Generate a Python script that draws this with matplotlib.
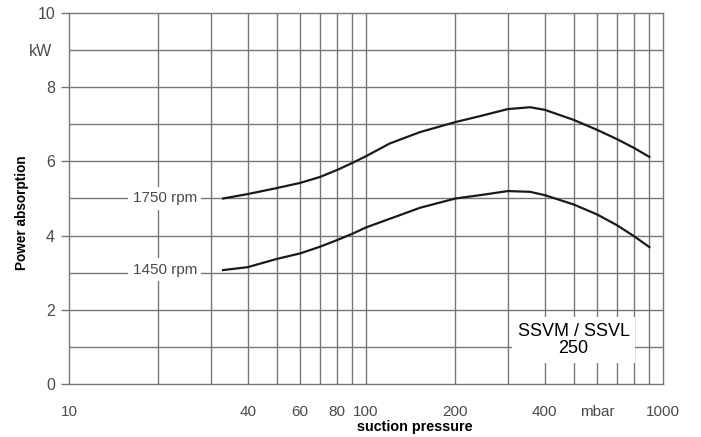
import numpy as np
import matplotlib
matplotlib.use("Agg")
import matplotlib.pyplot as plt

# suction pressure (mbar), log axis
pressure = [33, 40, 50, 60, 70, 80, 90, 100, 120, 152, 200, 242, 300, 357, 400, 500, 600, 700, 800, 900]
# power absorption (kW)
p_1750 = [5.00, 5.12, 5.28, 5.42, 5.58, 5.77, 5.96, 6.14, 6.48, 6.79, 7.06, 7.22, 7.41, 7.46, 7.39, 7.12, 6.85, 6.60, 6.36, 6.12]
p_1450 = [3.07, 3.15, 3.37, 3.52, 3.70, 3.88, 4.05, 4.22, 4.45, 4.75, 5.00, 5.09, 5.20, 5.18, 5.09, 4.84, 4.57, 4.28, 3.98, 3.69]

grid_x = [20, 30, 40, 50, 60, 70, 80, 90, 200, 300, 400, 500, 600, 700, 800, 900]
xlabel_pos = [10, 40, 60, 80, 100, 200, 400, 600, 1000]
xlabel_txt = ['10', '40', '60', '80', '100', '200', '400', 'mbar', '1000']
yticks = [0, 2, 4, 6, 8, 10]

gray = '#777777'
txt_gray = '#4a4a4a'
narrow = ['Liberation Sans Narrow', 'Liberation Sans', 'DejaVu Sans']
plt.rcParams['font.family'] = ['Liberation Sans', 'DejaVu Sans']

fig = plt.figure(figsize=(7.01, 4.37), dpi=100)
W, H = 701, 437
ax = fig.add_axes([69 / W, 1 - 384 / H, (663 - 69) / W, (384 - 13) / H])
ax.set_xscale('log')
ax.set_xlim(10, 1000)
ax.set_ylim(0, 10)

# grid
for x in grid_x + [100]:
    ax.axvline(x, color=gray, lw=1.0, zorder=0)
for y in range(1, 10):
    ax.axhline(y, color=gray, lw=1.0, zorder=0)
for s in ax.spines.values():
    s.set_color(gray)
    s.set_linewidth(1.0)

# curves
ax.plot(pressure, p_1750, color='#1a1a1a', lw=1.6, zorder=3)
ax.plot(pressure, p_1450, color='#1a1a1a', lw=1.6, zorder=3)

# x ticks: labels without marks, marks only at decades
ax.set_xticks(xlabel_pos, xlabel_txt)
ax.set_xticks([10, 100, 1000], ['', '', ''], minor=True)
ax.tick_params(axis='x', which='major', length=0, pad=15, labelsize=11, labelcolor=txt_gray)
ax.tick_params(axis='x', which='minor', length=6, width=1.0, color=gray)
for lab in ax.get_xticklabels():
    lab.set_family(narrow)

ax.set_yticks(yticks, [str(v) for v in yticks])
ax.set_yticks([9], ['kW'], minor=True)
ax.tick_params(axis='y', which='major', length=6, width=1.0, color=gray, pad=4,
               labelsize=11.5, labelcolor=txt_gray)
ax.tick_params(axis='y', which='minor', length=0, pad=12, labelsize=11.5, labelcolor=txt_gray)
for lab in ax.get_yticklabels() + ax.get_yticklabels(minor=True):
    lab.set_family(narrow)

# curve labels
ax.text(21, 5.0, '1750 rpm', ha='center', va='center', fontsize=11, color=txt_gray,
        family=narrow, zorder=2,
        bbox=dict(boxstyle='square,pad=0.3', fc='white', ec='none'))
ax.text(21, 3.08, '1450 rpm', ha='center', va='center', fontsize=11, color=txt_gray,
        family=narrow, zorder=2,
        bbox=dict(boxstyle='square,pad=0.3', fc='white', ec='none'))

ax.text(500, 1.19, 'SSVM / SSVL\n250', ha='center', va='center', fontsize=13,
        color='black', linespacing=1.05, zorder=2,
        bbox=dict(boxstyle='square,pad=0.3', fc='white', ec='none'))

fig.text(22 / W, 1 - 213 / H, 'Power absorption', rotation=90, ha='center', va='center',
         fontsize=9.8, fontweight='bold')
fig.text(415 / W, 1 - 427 / H, 'suction pressure', ha='center', va='center',
         fontsize=10.4, fontweight='bold')

fig.savefig('out.png', dpi=100)
